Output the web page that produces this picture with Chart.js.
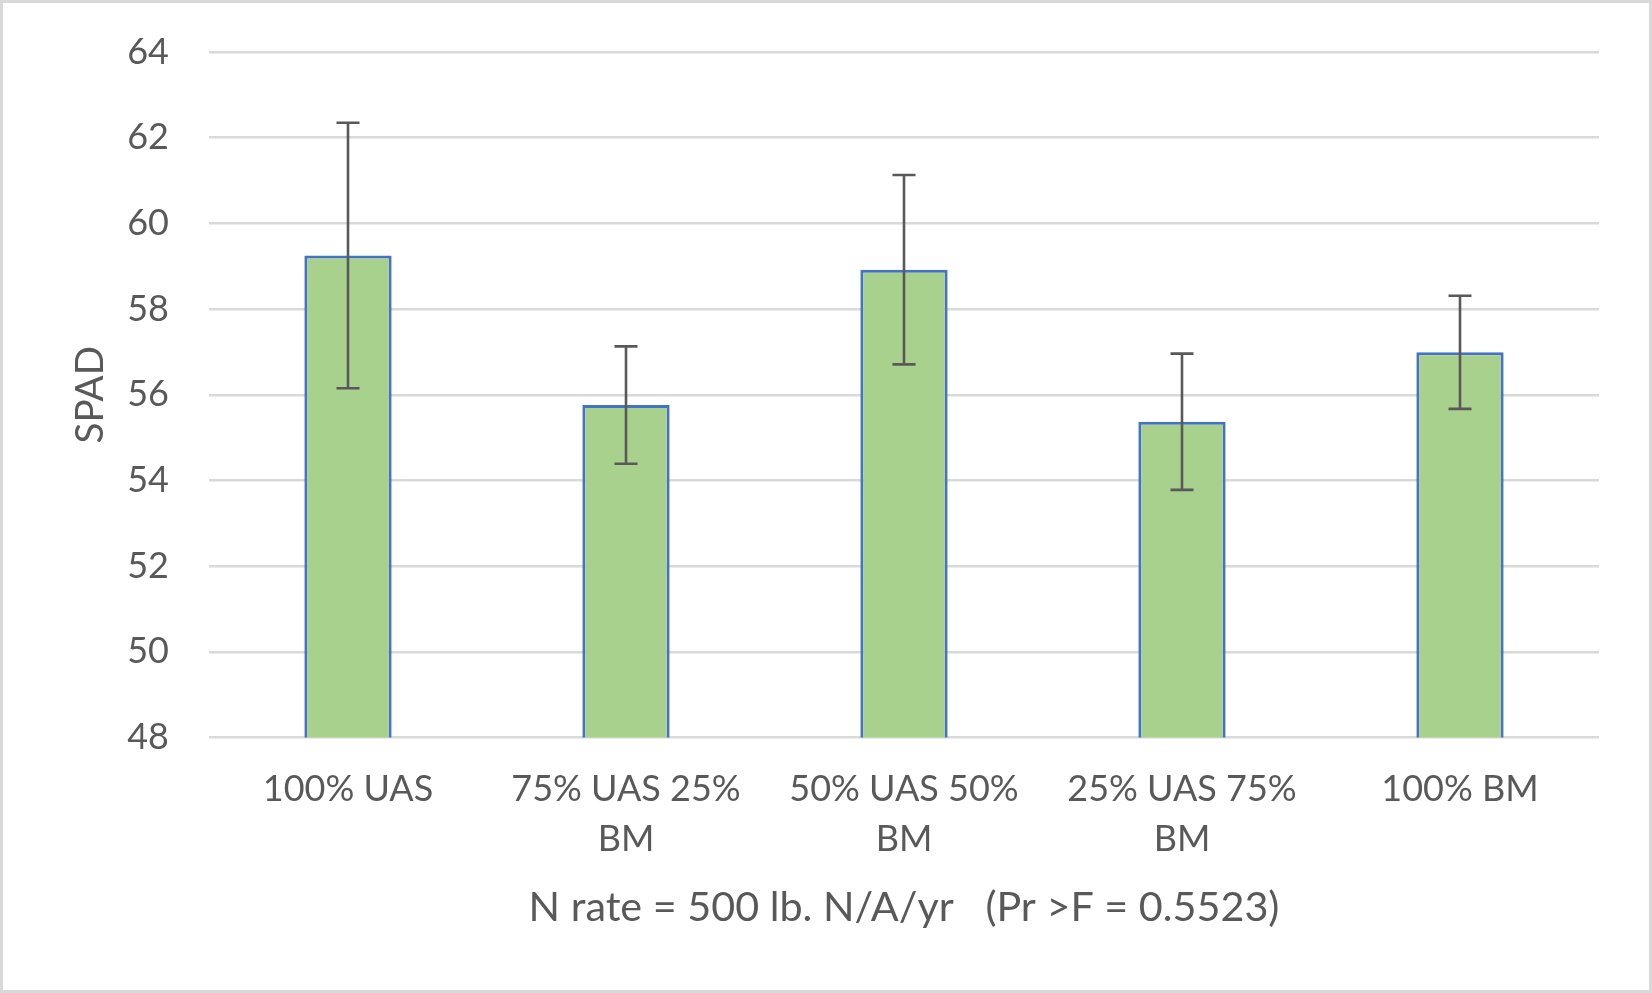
<!DOCTYPE html>
<html>
<head>
<meta charset="utf-8">
<script src="https://cdn.jsdelivr.net/npm/chart.js@4/dist/chart.umd.min.js"></script>
<style>
  html, body { margin: 0; padding: 0; background: #fff; }
</style>
</head>
<body>
<canvas id="myChart" width="1652" height="993"></canvas>
<script>
var xLabels = ["100% UAS", ["75% UAS 25%", "BM"], ["50% UAS 50%", "BM"], ["25% UAS 75%", "BM"], "100% BM"];
var spadValues = [59.25, 55.76, 58.92, 55.37, 56.99];
var spadErrors = [3.10, 1.37, 2.21, 1.59, 1.32];
var yTicks = [48, 50, 52, 54, 56, 58, 60, 62, 64];

var textColor = "#595959";
var fontName = "Lato, 'Open Sans', sans-serif";

// white background + light grey frame round the whole picture
const frame = {
  id: "frame",
  beforeDraw(chart) {
    const ctx = chart.ctx;
    ctx.save();
    ctx.fillStyle = "#fff";
    ctx.fillRect(0, 0, chart.width, chart.height);
    ctx.strokeStyle = "#d9d9d9";
    ctx.lineWidth = 3;
    ctx.strokeRect(1.5, 1.5, chart.width - 3, chart.height - 3);
    ctx.restore();
  }
};

// error bars drawn through the y scale
const errorBars = {
  id: "errorBars",
  afterDatasetsDraw(chart) {
    const ctx = chart.ctx;
    const y = chart.scales.y;
    const meta = chart.getDatasetMeta(0);
    ctx.save();
    ctx.strokeStyle = "#595959";
    ctx.lineWidth = 2.6;
    meta.data.forEach((bar, i) => {
      const top = y.getPixelForValue(spadValues[i] + spadErrors[i]);
      const bot = y.getPixelForValue(spadValues[i] - spadErrors[i]);
      const cap = 11.5;
      ctx.beginPath();
      ctx.moveTo(bar.x, top); ctx.lineTo(bar.x, bot);
      ctx.moveTo(bar.x - cap, top); ctx.lineTo(bar.x + cap, top);
      ctx.moveTo(bar.x - cap, bot); ctx.lineTo(bar.x + cap, bot);
      ctx.stroke();
    });
    ctx.restore();
  }
};

new Chart("myChart", {
  type: "bar",
  data: {
    labels: xLabels,
    datasets: [{
      data: spadValues,
      backgroundColor: "#a9d18e",
      borderColor: "#4472c4",
      borderWidth: 3,
      borderSkipped: false,
      barPercentage: 0.314,
      categoryPercentage: 1
    }]
  },
  options: {
    responsive: false,
    devicePixelRatio: 1,
    animation: false,
    layout: { padding: { left: 60, right: 53, top: 52, bottom: 0 } },
    plugins: { legend: { display: false }, tooltip: { enabled: false } },
    scales: {
      x: {
        grid: { display: false, drawTicks: false },
        border: { display: false },
        ticks: {
          color: textColor, padding: 27, maxRotation: 0, autoSkip: false,
          font: { family: fontName, size: 36, lineHeight: 1.38 }
        },
        title: {
          display: true,
          text: "N rate = 500 lb. N/A/yr   (Pr >F = 0.5523)",
          color: textColor,
          font: { family: fontName, size: 41.3, lineHeight: 1.2 },
          padding: { top: 0, bottom: 61 }
        },
        afterFit(scale) { scale.height = 993 - 737.5; }
      },
      y: {
        min: 48, max: 64,
        afterBuildTicks(scale) { scale.ticks = yTicks.map(v => ({ value: v })); },
        // invisible tick marks keep the labels 40px off the plot
        grid: { color: "#d9d9d9", lineWidth: 2.5, drawTicks: true, tickLength: 40, tickColor: "rgba(0,0,0,0)" },
        border: { display: false },
        ticks: {
          color: textColor, padding: 0,
          font: { family: fontName, size: 36 }
        },
        title: {
          display: true,
          text: "SPAD",
          color: textColor,
          font: { family: fontName, size: 38.5, lineHeight: 1.2 },
          padding: { top: 7, bottom: 0 }
        },
        afterFit(scale) { scale.width = 209 - 60; }
      }
    }
  },
  plugins: [frame, errorBars]
});
</script>
</body>
</html>
